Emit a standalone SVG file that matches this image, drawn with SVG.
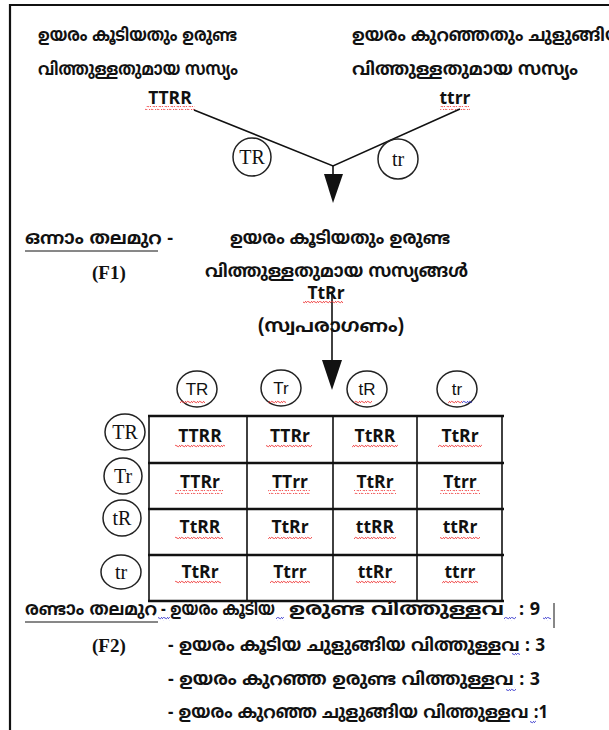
<svg xmlns="http://www.w3.org/2000/svg" width="609" height="730" viewBox="0 0 609 730">
<style>
.ml{font-family:"Noto Sans Malayalam","Noto Sans","DejaVu Sans",sans-serif;font-size:18px;font-weight:bold;fill:#111}
.g{font-family:"Open Sans","Liberation Sans",sans-serif;font-size:17.5px;font-weight:bold;fill:#111;text-anchor:middle}
.s{font-family:"Liberation Serif",serif;font-size:20px;fill:#111;text-anchor:middle}
.ss{font-family:"Liberation Sans",sans-serif;font-size:17px;fill:#111;text-anchor:middle}
.f{font-family:"Liberation Serif",serif;font-size:19px;font-weight:bold;fill:#111}
.c{fill:none;stroke:#222;stroke-width:1.5}
.ln{stroke:#111;stroke-width:1.6;fill:none}
.gh{stroke:#111;stroke-width:2.4}
.gv{stroke:#111;stroke-width:1.6}
.wr{fill:url(#wred)}
.wb{fill:url(#wblue)}
</style>
<defs>
<pattern id="wred" width="6" height="4" patternUnits="userSpaceOnUse"><path d="M0 3 Q1.5 0 3 2 T6 1" fill="none" stroke="#e33" stroke-width="0.9"/></pattern>
<pattern id="wblue" width="6" height="4" patternUnits="userSpaceOnUse"><path d="M0 3 Q1.5 0 3 2 T6 1" fill="none" stroke="#33c" stroke-width="0.9"/></pattern>
</defs>
<rect width="609" height="730" fill="#fff"/>
<g id="frame"><path d="M10 730 V5 H609" fill="none" stroke="#111" stroke-width="2.2"/></g>

<g id="parent1">
<text class="ml" x="38" y="41" textLength="199" lengthAdjust="spacingAndGlyphs">ഉയരം കൂടിയതും ഉരുണ്ട</text>
<text class="ml" x="38" y="75" textLength="200" lengthAdjust="spacingAndGlyphs">വിത്തുള്ളതുമായ സസ്യം</text>
<text class="g" x="170" y="104">TTRR</text>
<rect class="wr" x="145" y="106" width="50" height="4"/>
</g>
<g id="parent2">
<text class="ml" x="352" y="41" textLength="272" lengthAdjust="spacingAndGlyphs">ഉയരം കുറഞ്ഞതും ചുളുങ്ങിയ</text>
<text class="ml" x="352" y="75" textLength="226" lengthAdjust="spacingAndGlyphs">വിത്തുള്ളതുമായ സസ്യം</text>
<text class="g" x="455" y="104">ttrr</text>
<rect class="wr" x="440" y="106" width="30" height="4"/>
</g>

<g id="connectors">
<path class="ln" d="M194 110 L333 166 L460 109"/>
<path class="ln" d="M333 166 V174"/>
<path d="M324 174 H343 L333 203 Z" fill="#111"/>
<path class="ln" d="M332 292 V362"/>
<path d="M322 360 H342 L332 390 Z" fill="#111"/>
</g>

<g id="gamete1"><circle class="c" cx="252" cy="157" r="19"/><text class="s" x="252" y="164">TR</text></g>
<g id="gamete2"><circle class="c" cx="398" cy="159" r="20"/><text class="s" x="398" y="166">tr</text></g>

<g id="f1">
<text class="ml" x="25" y="244" textLength="148" lengthAdjust="spacingAndGlyphs">ഒന്നാം തലമുറ -</text>
<line x1="25" y1="251" x2="158" y2="251" stroke="#111" stroke-width="1"/>
<text class="ml" x="230" y="244" textLength="220" lengthAdjust="spacingAndGlyphs">ഉയരം കൂടിയതും ഉരുണ്ട</text>
<text class="f" x="92" y="279">(F1)</text>
<text class="ml" x="205" y="277" textLength="263" lengthAdjust="spacingAndGlyphs">വിത്തുള്ളതുമായ സസ്യങ്ങൾ</text>
<text class="g" x="326" y="299">TtRr</text>
<rect class="wr" x="303" y="301" width="40" height="4"/>
<text class="ml" x="258" y="332" textLength="146" lengthAdjust="spacingAndGlyphs">(സ്വപരാഗണം)</text>
</g>

<g id="col-gametes">
<ellipse class="c" cx="197" cy="389" rx="20" ry="18"/><text class="ss" x="197" y="395">TR</text>
<ellipse class="c" cx="281" cy="388" rx="20" ry="18"/><text class="ss" x="281" y="394">Tr</text>
<ellipse class="c" cx="367" cy="389" rx="20" ry="18"/><text class="ss" x="367" y="395">tR</text>
<ellipse class="c" cx="457" cy="389" rx="20" ry="18"/><text class="ss" x="457" y="395">tr</text>
<rect class="wr" x="180" y="400" width="25" height="4"/>
<rect class="wr" x="268" y="400" width="18" height="4"/>
<rect class="wr" x="354" y="400" width="18" height="4"/>
<rect class="wr" x="448" y="400" width="14" height="4"/>
<rect class="wb" x="462" y="400" width="10" height="4"/>
</g>
<g id="row-gametes">
<ellipse class="c" cx="125" cy="432" rx="20" ry="18"/><text class="s" x="125" y="439">TR</text>
<ellipse class="c" cx="123" cy="476" rx="19" ry="18"/><text class="s" x="123" y="483">Tr</text>
<ellipse class="c" cx="122" cy="518" rx="19" ry="18"/><text class="s" x="122" y="525">tR</text>
<ellipse class="c" cx="121" cy="572" rx="20" ry="17"/><text class="s" x="121" y="579">tr</text>
</g>

<g id="grid">
<line class="gh" x1="148" y1="416" x2="504" y2="416"/>
<line class="gh" x1="148" y1="463" x2="504" y2="463"/>
<line class="gh" x1="148" y1="509" x2="504" y2="509"/>
<line class="gh" x1="148" y1="555" x2="504" y2="555"/>
<line class="gh" x1="148" y1="601" x2="504" y2="601"/>
<line class="gv" x1="149" y1="416" x2="149" y2="601"/>
<line class="gv" x1="247" y1="416" x2="247" y2="601"/>
<line class="gv" x1="333" y1="416" x2="333" y2="601"/>
<line class="gv" x1="417" y1="416" x2="417" y2="601"/>
<line class="gv" x1="502" y1="416" x2="502" y2="601"/>
</g>

<g id="cells">
<text class="g" x="200" y="442">TTRR</text><text class="g" x="290" y="442">TTRr</text><text class="g" x="375" y="442">TtRR</text><text class="g" x="460" y="442">TtRr</text>
<text class="g" x="200" y="488">TTRr</text><text class="g" x="290" y="488">TTrr</text><text class="g" x="375" y="488">TtRr</text><text class="g" x="460" y="488">Ttrr</text>
<text class="g" x="200" y="533">TtRR</text><text class="g" x="290" y="533">TtRr</text><text class="g" x="375" y="533">ttRR</text><text class="g" x="460" y="533">ttRr</text>
<text class="g" x="200" y="578">TtRr</text><text class="g" x="290" y="578">Ttrr</text><text class="g" x="375" y="578">ttRr</text><text class="g" x="460" y="578">ttrr</text>
<rect class="wr" x="175" y="444" width="50" height="4"/><rect class="wr" x="266" y="444" width="46" height="4"/><rect class="wr" x="352" y="444" width="46" height="4"/><rect class="wr" x="438" y="444" width="44" height="4"/>
<rect class="wr" x="175" y="490" width="48" height="4"/><rect class="wr" x="268" y="490" width="42" height="4"/><rect class="wr" x="354" y="490" width="42" height="4"/><rect class="wr" x="440" y="490" width="40" height="4"/>
<rect class="wr" x="175" y="535" width="48" height="4"/><rect class="wr" x="268" y="535" width="44" height="4"/><rect class="wr" x="354" y="535" width="42" height="4"/><rect class="wr" x="440" y="535" width="40" height="4"/>
<rect class="wr" x="175" y="580" width="46" height="4"/><rect class="wr" x="270" y="580" width="40" height="4"/><rect class="wr" x="356" y="580" width="40" height="4"/><rect class="wr" x="442" y="580" width="36" height="4"/>
</g>

<g id="f2">
<text class="ml" y="615"><tspan x="25" textLength="132" lengthAdjust="spacingAndGlyphs">രണ്ടാം തലമുറ</tspan><tspan x="161" textLength="114" lengthAdjust="spacingAndGlyphs">- ഉയരം കൂടിയ</tspan><tspan x="289" textLength="215" lengthAdjust="spacingAndGlyphs">ഉരുണ്ട വിത്തുള്ളവ</tspan><tspan x="519" textLength="21" lengthAdjust="spacingAndGlyphs">: 9</tspan></text>
<line x1="25" y1="622" x2="158" y2="622" stroke="#111" stroke-width="1"/>
<line x1="554" y1="603" x2="554" y2="628" stroke="#111" stroke-width="1"/>
<text class="f" x="92" y="652">(F2)</text>
<text class="ml" x="168" y="651" textLength="377" lengthAdjust="spacingAndGlyphs">- ഉയരം കൂടിയ ചുളുങ്ങിയ വിത്തുള്ളവ : 3</text>
<text class="ml" x="168" y="685" textLength="372" lengthAdjust="spacingAndGlyphs">- ഉയരം കുറഞ്ഞ ഉരുണ്ട വിത്തുള്ളവ : 3</text>
<text class="ml" x="168" y="718" textLength="380" lengthAdjust="spacingAndGlyphs">- ഉയരം കുറഞ്ഞ ചുളുങ്ങിയ വിത്തുള്ളവ :1</text>
<rect class="wb" x="158" y="617" width="12" height="4"/>
<rect class="wb" x="276" y="617" width="8" height="4"/>
<rect class="wb" x="504" y="617" width="12" height="4"/>
<rect class="wb" x="543" y="617" width="8" height="4"/>
<rect class="wb" x="512" y="653" width="8" height="4"/>
<rect class="wb" x="506" y="687" width="10" height="4"/>
<rect class="wb" x="530" y="720" width="6" height="4"/>
</g>
</svg>
